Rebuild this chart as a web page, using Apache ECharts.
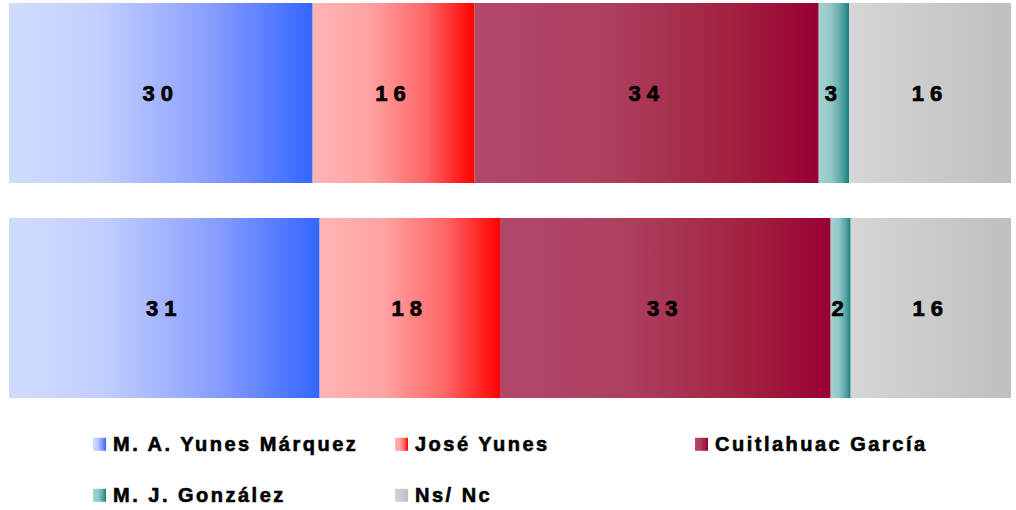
<!DOCTYPE html>
<html>
<head>
<meta charset="utf-8">
<script src="https://cdn.jsdelivr.net/npm/echarts@6.0.0/dist/echarts.min.js"></script>
<style>
  html, body { margin: 0; padding: 0; background: #fff; }
  #container { width: 1016px; height: 510px; }
  /* espaciado de letras como en el original */
  #container text[style*="22px"] { letter-spacing: 6px; }
  #container text[style*="20px"] { letter-spacing: 2.5px; }
</style>
</head>
<body>
<div id="container"></div>
<script>
// filas (dos mediciones), sin etiqueta visible
var rows = ['1', '2'];
var names = ['M. A. Yunes Márquez', 'José Yunes', 'Cuitlahuac García', 'M. J. González', 'Ns/ Nc'];
var yunesMarquez = [30, 31];
var joseYunes = [16, 18];
var cuitlahuac = [34, 33];
var gonzalez = [3, 2];
var nsnc = [16, 16];

var values = [yunesMarquez, joseYunes, cuitlahuac, gonzalez, nsnc];

// degradados horizontales de cada segmento (claro -> intenso)
var gradients = [
	[[0, '#d0dcff'], [0.3, '#c2cfff'], [0.65, '#8ca0ff'], [1, '#3366ff']],
	[[0, '#ffb4b4'], [0.35, '#ffa3a3'], [0.7, '#ff6666'], [1, '#ff0000']],
	[[0, '#b24868'], [0.4, '#ad3e5e'], [0.75, '#a2213f'], [1, '#990033']],
	[[0, '#a2d2d2'], [0.4, '#93c8c8'], [0.75, '#5aa5a5'], [1, '#0f7f7f']],
	[[0, '#d6d6d6'], [1, '#bfbfbf']]
];

window.onload = function () {
	// cada barra se muestra al 100% de su fila
	var totals = rows.map(function (r, i) {
		var s = 0;
		values.forEach(function (v) { s += v[i]; });
		return s;
	});

	var series = names.map(function (name, k) {
		return {
			name: name,
			type: 'bar',
			stack: 'total',
			barWidth: 180,
			itemStyle: {
				color: new echarts.graphic.LinearGradient(0, 0, 1, 0, gradients[k].map(function (s) {
					return { offset: s[0], color: s[1] };
				}))
			},
			label: {
				show: true,
				position: 'inside',
				color: '#000',
				fontFamily: 'Liberation Sans',
				fontWeight: 'bold',
				fontSize: 22,
				textBorderColor: '#000',
				textBorderWidth: 0.7,
				formatter: function (p) { return p.data.raw; }
			},
			data: values[k].map(function (v, i) {
				return { value: v / totals[i] * 100, raw: v };
			})
		};
	});

	var legendPos = [[93, 434], [395, 434], [695, 434], [93, 485], [395, 485]];
	var legends = names.map(function (name, k) {
		return {
			data: [name],
			left: legendPos[k][0],
			top: legendPos[k][1],
			padding: 0,
			icon: 'rect',
			itemWidth: 13,
			itemHeight: 13,
			textStyle: {
				color: '#000',
				fontFamily: 'Liberation Sans',
				fontWeight: 'bold',
				fontSize: 20,
				lineHeight: 20,
				textBorderColor: '#000',
				textBorderWidth: 0.6,
				padding: [0, 0, 0, 2]
			}
		};
	});

	var myChart = echarts.init(document.getElementById('container'), null, { renderer: 'svg' });
	myChart.setOption({
		animation: false,
		grid: { left: 9, right: 5, top: -14.5, bottom: 94.5, outerBoundsMode: 'none' },
		xAxis: { type: 'value', min: 0, max: 100, show: false },
		yAxis: { type: 'category', data: rows, inverse: true, show: false },
		legend: legends,
		series: series
	});
};
</script>
</body>
</html>
